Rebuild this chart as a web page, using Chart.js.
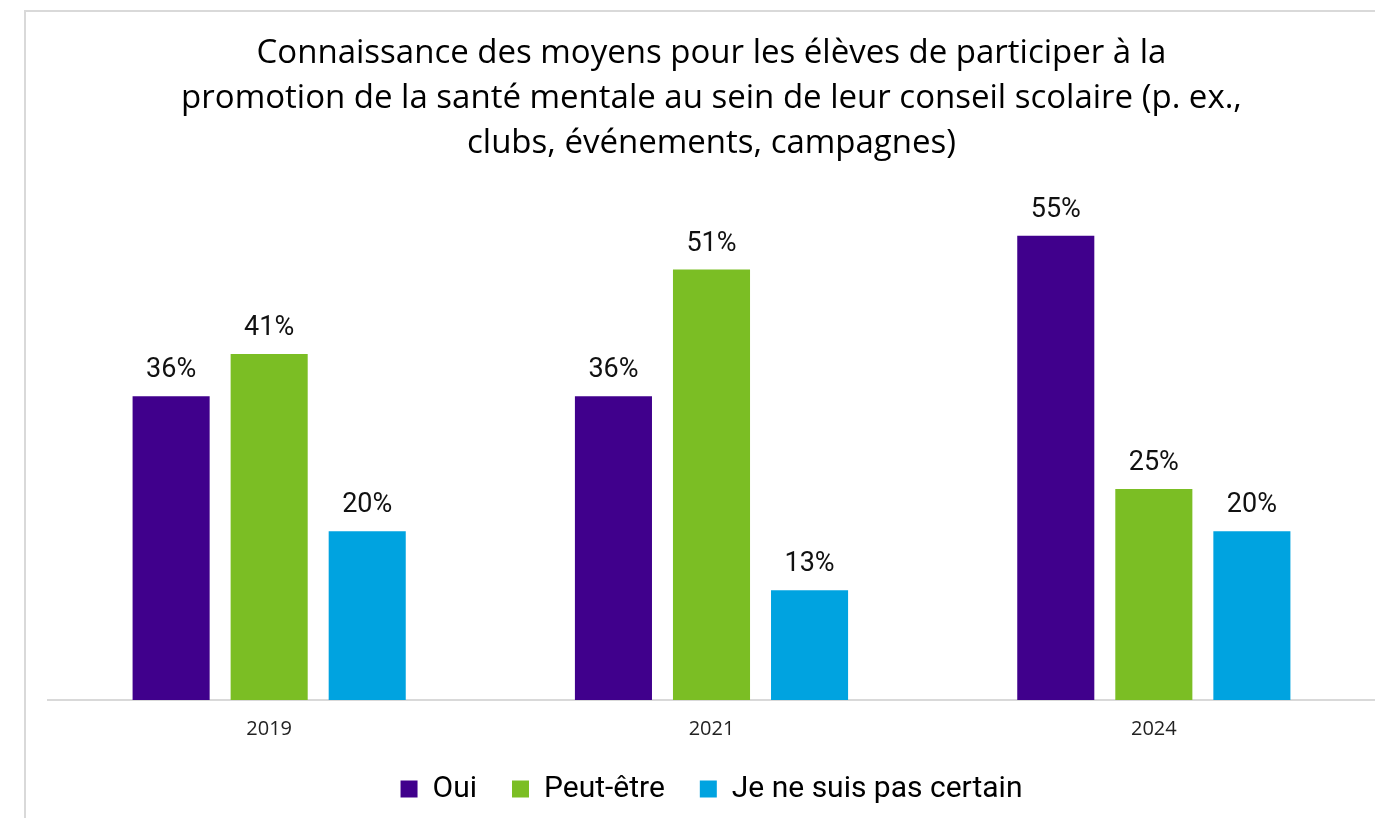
<!DOCTYPE html>
<html>
<head>
<meta charset="utf-8">
<script src="https://cdn.jsdelivr.net/npm/chart.js@4.4.1/dist/chart.umd.min.js"></script>
<style>
  html, body { margin: 0; padding: 0; background: #fff; overflow: hidden; }
  #frame { position: absolute; left: 24px; top: 10px; width: 1351px; height: 808px;
           border-top: 2px solid #d9d9d9; border-left: 2px solid #d9d9d9; box-sizing: border-box; }
  #wrap { position: absolute; left: 26px; top: 12px; width: 1349px; height: 806px; }
</style>
</head>
<body>
<div id="frame"></div>
<div id="wrap"><canvas id="chart"></canvas></div>
<script>
var years = ['2019', '2021', '2024'];
var oui = [36, 36, 55];
var peutEtre = [41, 51, 25];
var pasCertain = [20, 13, 20];
var titleLines = [
  'Connaissance des moyens pour les élèves de participer à la',
  'promotion de la santé mentale au sein de leur conseil scolaire (p. ex.,',
  'clubs, événements, campagnes)'
];

// étiquettes de valeur au-dessus des barres
var valueLabels = {
  id: 'valueLabels',
  afterDatasetsDraw: function (chart) {
    var ctx = chart.ctx;
    ctx.save();
    ctx.font = '27px Roboto';
    ctx.fillStyle = '#111';
    ctx.textAlign = 'center';
    ctx.textBaseline = 'alphabetic';
    chart.data.datasets.forEach(function (ds, i) {
      chart.getDatasetMeta(i).data.forEach(function (bar, j) {
        ctx.fillText(ds.data[j] + '%', bar.x, bar.y - 19);
      });
    });
    ctx.restore();
  }
};

var ctx = document.getElementById('chart');
var myChart = new Chart(ctx, {
  type: 'bar',
  data: {
    labels: years,
    datasets: [{
      label: 'Oui',
      data: oui,
      backgroundColor: 'rgb(64, 0, 140)'
    }, {
      label: 'Peut-être',
      data: peutEtre,
      backgroundColor: 'rgb(123, 190, 36)'
    }, {
      label: 'Je ne suis pas certain',
      data: pasCertain,
      backgroundColor: 'rgb(0, 163, 224)'
    }]
  },
  options: {
    responsive: true,
    maintainAspectRatio: false,
    animation: false,
    datasets: {
      bar: { categoryPercentage: 0.665, barPercentage: 0.786 }
    },
    layout: { padding: { left: 22, right: 0, top: 0, bottom: 4 } },
    scales: {
      x: {
        grid: { display: false, drawTicks: false, tickLength: 0 },
        border: { display: true, color: '#d9d9d9', width: 2 },
        ticks: { color: '#222', font: { family: 'Open Sans', size: 20 }, padding: 17 },
        afterFit: function (scale) { scale.height = 39; }
      },
      y: {
        display: false,
        min: 0,
        max: 60
      }
    },
    plugins: {
      title: {
        display: true,
        text: titleLines,
        color: '#000',
        font: { family: 'Open Sans', size: 33, weight: 'normal', lineHeight: 1.36 },
        padding: { top: 19, bottom: 28 }
      },
      legend: {
        position: 'bottom',
        labels: {
          color: '#000',
          font: { family: 'Roboto', size: 30 },
          boxWidth: 17,
          boxHeight: 17,
          padding: 35
        }
      },
      tooltip: { enabled: false }
    }
  },
  plugins: [valueLabels]
});
</script>
</body>
</html>
